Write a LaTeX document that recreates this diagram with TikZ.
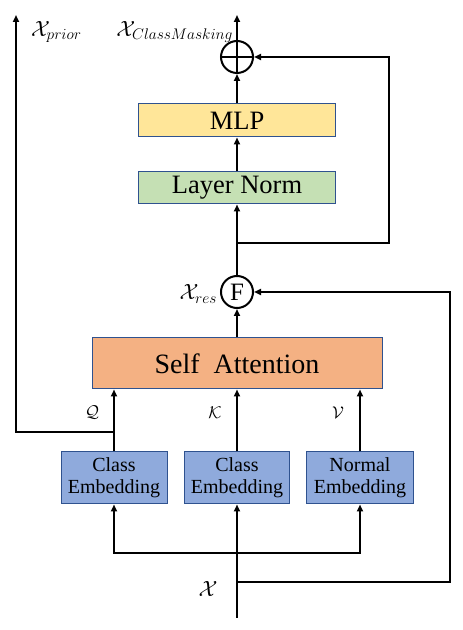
\RequirePackage{fix-cm}
\documentclass[tikz,border=0pt]{standalone}
\usepackage{amsmath}
\usepackage{fontspec}
\setmainfont{Liberation Serif}
\usetikzlibrary{arrows.meta}
\definecolor{edgeblue}{RGB}{47,82,143}
\definecolor{mlpfill}{RGB}{255,230,153}
\definecolor{normfill}{RGB}{197,224,180}
\definecolor{attnfill}{RGB}{244,177,131}
\definecolor{embfill}{RGB}{143,170,220}
\begin{document}
\begin{tikzpicture}[x=1pt, y=1pt, line width=2pt, >={Triangle[length=7pt,width=6pt]},
  block/.style={draw=edgeblue, line width=1pt, minimum width=197pt, minimum height=33pt, inner sep=0pt, font=\fontsize{26.5}{30}\selectfont},
  embbox/.style={draw=edgeblue, line width=1pt, fill=embfill, minimum width=106pt, minimum height=52pt, inner sep=0pt, align=center, font=\fontsize{20}{22}\selectfont},
  opnode/.style={draw, circle, minimum size=32pt, inner sep=0pt, font=\fontsize{25}{25}\selectfont},
  lbl/.style={inner sep=0pt, font=\fontsize{22}{24}\selectfont},
  qkv/.style={inner sep=0pt, font=\fontsize{17}{19}\selectfont}]
\useasboundingbox (0, 0) rectangle (463, 630);
\node [block, fill=mlpfill] (mlp) at (237, 509.5) {MLP};
\node [block, fill=normfill, minimum height=32pt] (norm) at (237, 442) {Layer Norm};
\node [opnode] (plus) at (237, 573) {};
\draw (plus.north) to (plus.south);
\draw (plus.west) to (plus.east);
\node [opnode] (fuse) at (237, 338) {F};
\node [block, fill=attnfill, minimum width=290pt, minimum height=51pt, font=\fontsize{28}{32}\selectfont] (attn) at (237, 266.5) {Self\ \ Attention};
\node [embbox] (embq) at (114, 152) {Class\\Embedding};
\node [embbox, minimum width=105pt] (embk) at (237, 152) {Class\\Embedding};
\node [embbox, minimum width=107pt] (embv) at (360, 152) {Normal\\Embedding};
\coordinate (out) at (237, 615);
\coordinate (prior) at (16, 615);
\coordinate (qsplit) at (114, 198);
\coordinate (nsplit) at (237, 387);
\coordinate (rtop) at (389, 573);
\coordinate (xin) at (237, 12);
\coordinate (xturn) at (237, 48);
\coordinate (rbot) at (450, 338);
\coordinate (xsplit) at (237, 77);
\draw [->] (mlp) to (plus);
\draw [->] (plus) to (out);
\draw [->] (norm) to (mlp);
\draw [->] (fuse) to (norm);
\draw [->] (nsplit) -| (rtop) to (plus.east);
\draw [->] (attn.north -| fuse) to (fuse);
\draw [->] (embq) to (embq |- attn.south);
\draw [->] (embk) to (embk |- attn.south);
\draw [->] (embv) to (embv |- attn.south);
\draw [->] (qsplit) -| (prior);
\draw [->] (xin) to (embk);
\draw [->] (xsplit) -| (embq);
\draw [->] (xsplit) -| (embv);
\draw [->] (xturn) -| (rbot) to (fuse.east);
\node [lbl, anchor=west] (priorlbl) at (30, 598) {$\mathcal{X}_{prior}$};
\node [lbl, anchor=east] (masklbl) at (234, 598) {$\mathcal{X}_{ClassMasking}$};
\node [lbl, anchor=east] (reslbl) at (218, 336) {$\mathcal{X}_{res}$};
\node [qkv] (qlbl) at (92, 217) {$\mathcal{Q}$};
\node [qkv] (klbl) at (215, 217) {$\mathcal{K}$};
\node [qkv] (vlbl) at (338, 217) {$\mathcal{V}$};
\node [lbl] (xlbl) at (208, 41) {$\mathcal{X}$};
\end{tikzpicture}
\end{document}
